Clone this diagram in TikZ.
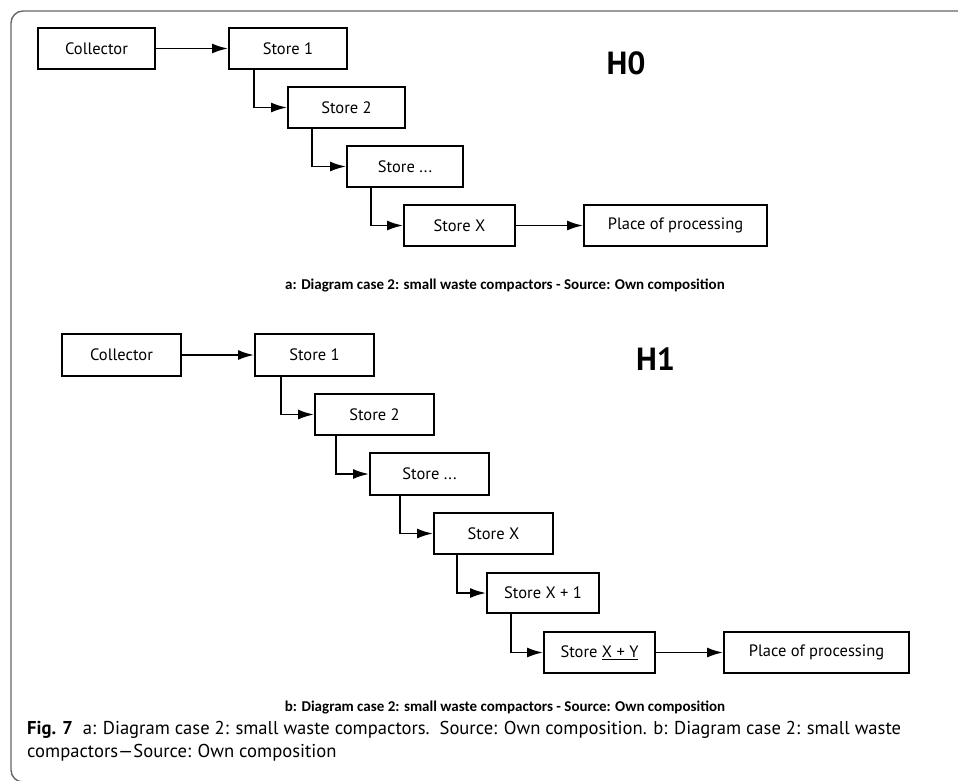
\documentclass[tikz,border=0pt]{standalone}
\usepackage{fontspec}
\setmainfont{PT Sans}
\newfontfamily\capfont{Carlito}
\usetikzlibrary{arrows.meta}
\begin{document}
\begin{tikzpicture}[x=1pt,y=-1pt,
  box/.style={draw, line width=1.9pt, minimum height=41pt, inner sep=0pt, font=\fontsize{16.5}{19}\selectfont},
  arr/.style={line width=1.9pt, -{Latex[length=16pt,width=10pt]}},
  hlab/.style={font=\fontsize{32}{36}\selectfont\bfseries},
  sub/.style={font=\capfont\fontsize{15}{18}\selectfont\bfseries},
  figcap/.style={anchor=base west, inner sep=0pt, font=\fontsize{18.6}{22}\selectfont}]
\useasboundingbox (0,0) rectangle (958,780);
\draw[gray!80!black, line width=1.4pt, rounded corners=12pt] (958,11) -- (11,11) -- (11,782) -- (60,782);
% H0
\node[box, minimum width=117pt] (a0) at (96.5,48.5) {Collector};
\node[box, minimum width=118pt] (a1) at (288,48.5) {Store 1};
\node[box, minimum width=117pt] (a2) at (346.5,107.5) {Store 2};
\node[box, minimum width=116pt] (a3) at (405,166.5) {Store ...};
\node[box, minimum width=111pt] (a4) at (459.5,225.5) {Store X};
\node[box, minimum width=183pt] (a5) at (675.5,225.5) {Place of processing};
\draw[arr] (a0) -- (a1);
\draw[arr] ([xshift=26pt]a1.south west) |- (a2.west);
\draw[arr] ([xshift=25pt]a2.south west) |- (a3.west);
\draw[arr] ([xshift=25pt]a3.south west) |- (a4.west);
\draw[arr] (a4) -- (a5);
\node[hlab] (h0) at (626,63.5) {H0};
\node[sub] (ca) at (505,285) {a: Diagram case 2: small waste compactors - Source: Own composition};
% H1
\node[box, minimum width=119pt, minimum height=42pt] (b0) at (121.5,355) {Collector};
\node[box, minimum width=119pt, minimum height=42pt] (b1) at (314.5,355) {Store 1};
\node[box, minimum width=119pt] (b2) at (374.5,414.5) {Store 2};
\node[box, minimum width=119pt, minimum height=42pt] (b3) at (429.5,474) {Store ...};
\node[box, minimum width=119pt] (b4) at (493.5,533.5) {Store X};
\node[box, minimum width=112pt, minimum height=40pt] (b5) at (543,593) {Store X + 1};
\node[box, minimum width=111pt] (b6) at (599.5,652.5) {Store \underline{X + Y}};
\node[box, minimum width=185pt] (b7) at (816.5,652.5) {Place of processing};
\draw[arr] (b0) -- (b1);
\draw[arr] ([xshift=27pt]b1.south west) |- (b2.west);
\draw[arr] ([xshift=22pt]b2.south west) |- (b3.west);
\draw[arr] ([xshift=31pt]b3.south west) |- (b4.west);
\draw[arr] ([xshift=24pt]b4.south west) |- (b5.west);
\draw[arr] ([xshift=25pt]b5.south west) |- (b6.west);
\draw[arr] (b6) -- (b7);
\node[hlab] (h1) at (655.5,359) {H1};
\node[sub] (cb) at (505,707) {b: Diagram case 2: small waste compactors - Source: Own composition};
% figure caption
\node[figcap] (f1) at (27,734) {\textbf{Fig. 7}\ \ a: Diagram case 2: small waste compactors.\ \ Source: Own composition. b: Diagram case 2: small waste};
\node[figcap] (f2) at (27,757) {compactors—Source: Own composition};
\end{tikzpicture}
\end{document}
